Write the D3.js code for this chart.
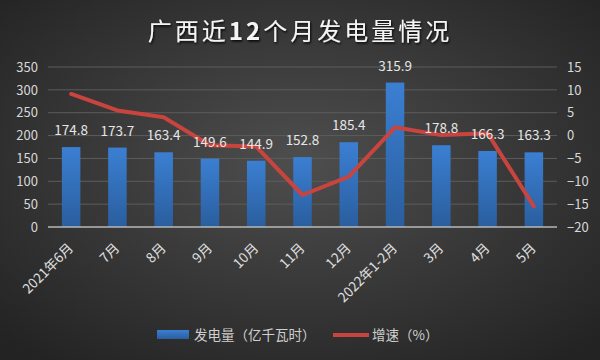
<!DOCTYPE html>
<html>
<head>
<meta charset="utf-8">
<script src="https://cdn.jsdelivr.net/npm/d3@7"></script>
<style>
  html, body { margin: 0; padding: 0; background: #333; }
  svg { display: block; }
</style>
</head>
<body>
<div id="chart"></div>
<script>
// Data
const months = ["2021年6月", "7月", "8月", "9月", "10月", "11月", "12月", "2022年1-2月", "3月", "4月", "5月"];
const output = [174.8, 173.7, 163.4, 149.6, 144.9, 152.8, 185.4, 315.9, 178.8, 166.3, 163.3];
const growth = [9.1, 5.5, 4.0, -2.1, -2.4, -13.0, -9.0, 1.8, 0.1, 0.5, -15.5];
const leftTicks = [0, 50, 100, 150, 200, 250, 300, 350];
const rightTicks = [-20, -15, -10, -5, 0, 5, 10, 15];

const width = 600, height = 360;
const margin = { top: 67, right: 43, bottom: 133, left: 48 };
const font = "'Noto Sans CJK SC', 'Open Sans', sans-serif";

const svg = d3.select("#chart").append("svg")
    .attr("width", width)
    .attr("height", height);

const defs = svg.append("defs");

// background gradient
const bg = defs.append("radialGradient").attr("id", "bg")
    .attr("cx", "50%").attr("cy", "45%").attr("r", "70%");
bg.append("stop").attr("offset", "0%").attr("stop-color", "#4e4e4e");
bg.append("stop").attr("offset", "100%").attr("stop-color", "#232323");

const barGrad = defs.append("linearGradient").attr("id", "barGrad")
    .attr("x1", 0).attr("y1", 0).attr("x2", 0).attr("y2", 1);
barGrad.append("stop").attr("offset", "0%").attr("stop-color", "#3b7fd2");
barGrad.append("stop").attr("offset", "100%").attr("stop-color", "#2a5e9e");

const shadow = defs.append("filter").attr("id", "shadow")
    .attr("x", "-10%").attr("y", "-30%").attr("width", "120%").attr("height", "160%");
shadow.append("feDropShadow").attr("dx", 1).attr("dy", 1.5)
    .attr("stdDeviation", 1.2).attr("flood-color", "#000").attr("flood-opacity", 0.9);

svg.append("rect").attr("width", width).attr("height", height).attr("fill", "url(#bg)");

// Scales
const x = d3.scaleBand()
    .domain(months)
    .range([margin.left, width - margin.right])
    .paddingInner(0.6)
    .paddingOuter(0.3);

const y = d3.scaleLinear()
    .domain([0, 350])
    .range([height - margin.bottom, margin.top]);

const y2 = d3.scaleLinear()
    .domain([-20, 15])
    .range([height - margin.bottom, margin.top]);

// Title (digits bold, characters regular)
const title = svg.append("text")
    .attr("x", width / 2)
    .attr("y", 40)
    .attr("text-anchor", "middle")
    .attr("fill", "#f4f4f4")
    .attr("filter", "url(#shadow)")
    .style("font-family", font)
    .style("font-size", "24px")
    .style("letter-spacing", "3px");
title.append("tspan").text("广西近");
title.append("tspan").style("font-weight", "bold").text("12");
title.append("tspan").text("个月发电量情况");

// Gridlines
svg.append("g")
    .selectAll("line")
    .data(leftTicks.filter(d => d > 0))
    .enter()
    .append("line")
    .attr("x1", margin.left)
    .attr("x2", width - margin.right)
    .attr("y1", d => y(d))
    .attr("y2", d => y(d))
    .attr("stroke", "#5c5c5c")
    .attr("stroke-width", 1);

// Left axis
const leftAxis = svg.append("g")
    .attr("transform", `translate(${margin.left},0)`)
    .call(d3.axisLeft(y).tickValues(leftTicks).tickSize(0).tickPadding(10));
leftAxis.select(".domain").remove();

// Right axis
const rightAxis = svg.append("g")
    .attr("transform", `translate(${width - margin.right},0)`)
    .call(d3.axisRight(y2).tickValues(rightTicks).tickSize(0).tickPadding(10));
rightAxis.select(".domain").remove();

[leftAxis, rightAxis].forEach(g => {
    g.selectAll("text")
        .attr("fill", "#d8d8d8")
        .style("font-family", font)
        .style("font-size", "13px");
});

// Bars
svg.append("g")
    .selectAll("rect")
    .data(output)
    .enter()
    .append("rect")
    .attr("x", (d, i) => x(months[i]))
    .attr("y", d => y(d))
    .attr("width", x.bandwidth())
    .attr("height", d => y(0) - y(d))
    .attr("fill", "url(#barGrad)");

// Baseline
svg.append("line")
    .attr("x1", margin.left)
    .attr("x2", width - margin.right)
    .attr("y1", y(0))
    .attr("y2", y(0))
    .attr("stroke", "#b8b8b8")
    .attr("stroke-width", 1.5);

// Line
const line = d3.line()
    .x((d, i) => x(months[i]) + x.bandwidth() / 2)
    .y(d => y2(d));

svg.append("path")
    .datum(growth)
    .attr("d", line)
    .attr("fill", "none")
    .attr("stroke", "#c9443f")
    .attr("stroke-width", 4)
    .attr("stroke-linejoin", "round")
    .attr("stroke-linecap", "round");

// Value labels
svg.append("g")
    .selectAll("text")
    .data(output)
    .enter()
    .append("text")
    .attr("x", (d, i) => x(months[i]) + x.bandwidth() / 2)
    .attr("y", d => y(d) - 12)
    .attr("text-anchor", "middle")
    .attr("fill", "#e6e6e6")
    .style("font-family", font)
    .style("font-size", "13.5px")
    .text(d => d.toFixed(1));

// X labels
svg.append("g")
    .selectAll("text")
    .data(months)
    .enter()
    .append("text")
    .attr("transform", d => `translate(${x(d) + x.bandwidth() / 2 + 3},${y(0) + 22}) rotate(-45)`)
    .attr("text-anchor", "end")
    .attr("fill", "#e0e0e0")
    .style("font-family", font)
    .style("font-size", "13.5px")
    .text(d => d);

// Legend
const legend = svg.append("g").attr("transform", "translate(0,335)");
legend.append("rect")
    .attr("x", 157).attr("y", -5)
    .attr("width", 32).attr("height", 9)
    .attr("fill", "url(#barGrad)");
legend.append("text")
    .attr("x", 194).attr("y", 5)
    .attr("fill", "#cfcfcf")
    .style("font-family", font)
    .style("font-size", "13.5px")
    .text("发电量（亿千瓦时）");
legend.append("line")
    .attr("x1", 333).attr("x2", 369)
    .attr("y1", 0).attr("y2", 0)
    .attr("stroke", "#c9443f")
    .attr("stroke-width", 4);
legend.append("text")
    .attr("x", 372).attr("y", 5)
    .attr("fill", "#cfcfcf")
    .style("font-family", font)
    .style("font-size", "13.5px")
    .text("增速（%）");
</script>
</body>
</html>
